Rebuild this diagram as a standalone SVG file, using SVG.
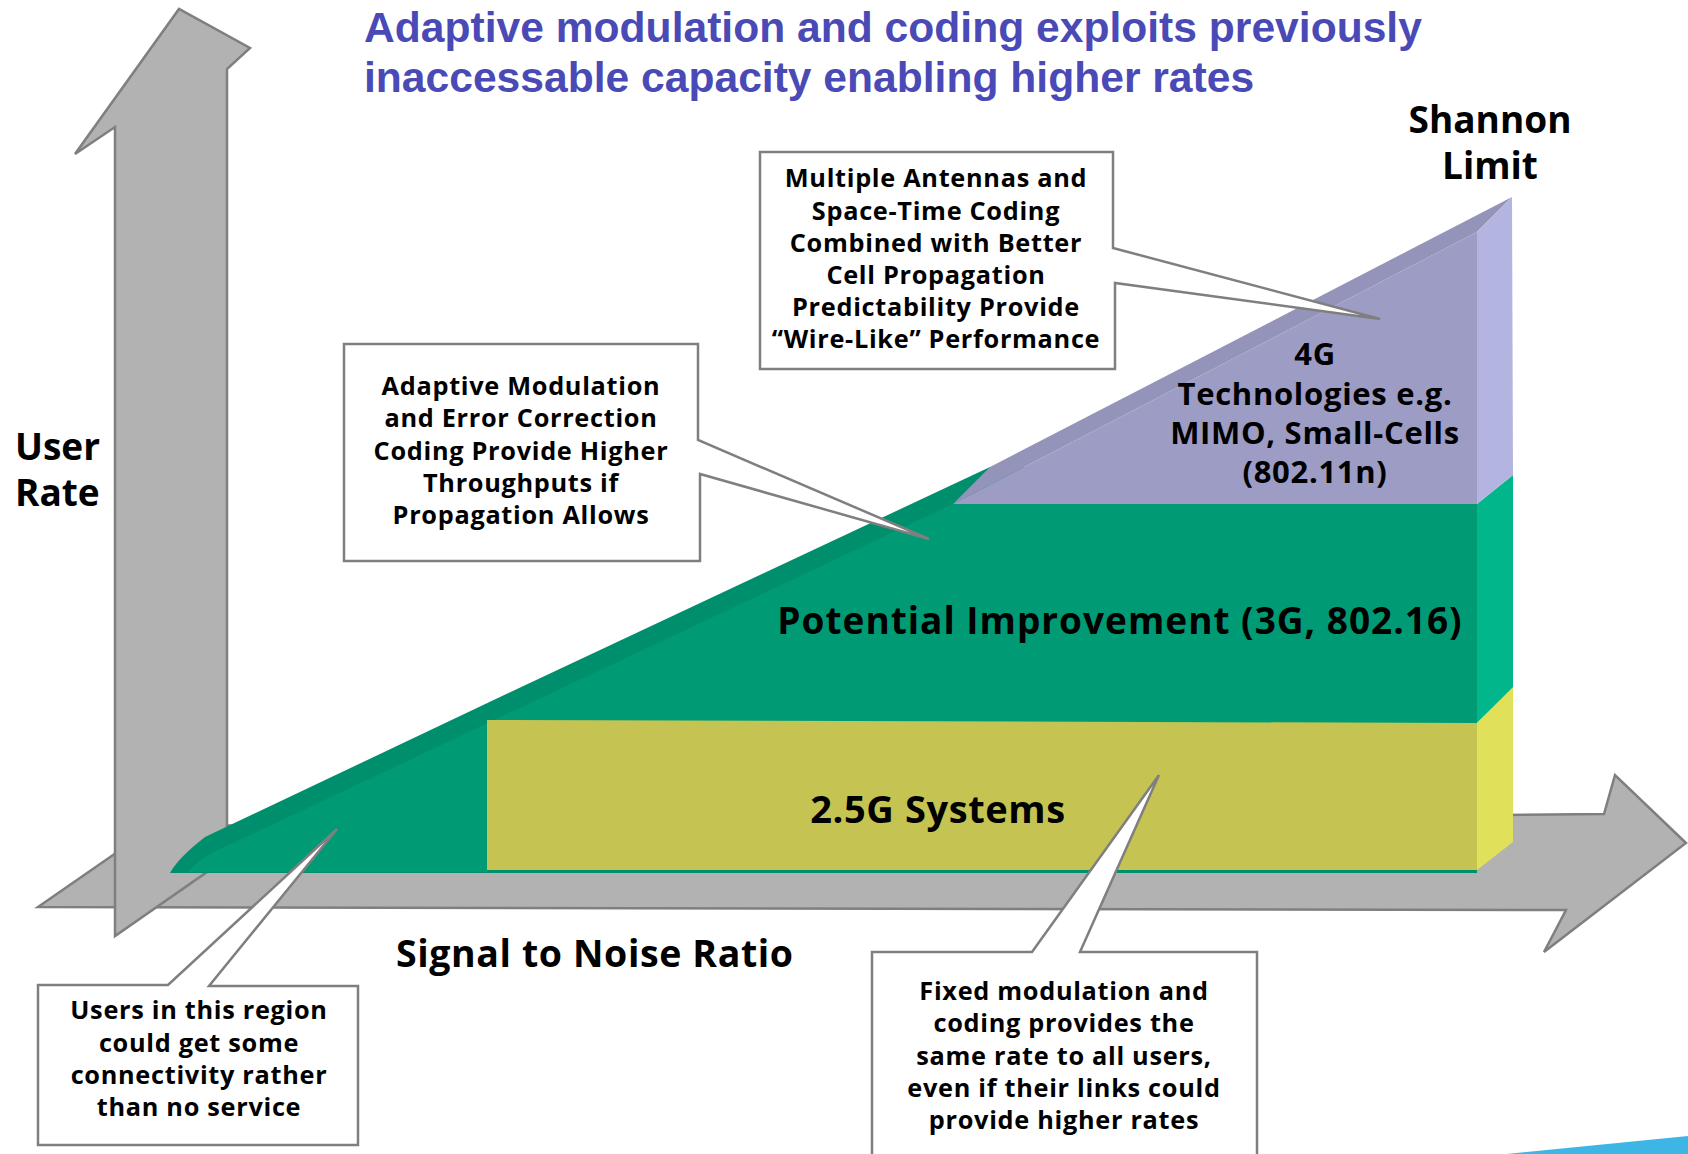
<svg xmlns="http://www.w3.org/2000/svg" width="1688" height="1154" viewBox="0 0 1688 1154">
<style>
.arrow{fill:#B2B2B2;stroke:#7F7F7F;stroke-width:2.5;stroke-linejoin:miter}
.callout{fill:#FFFFFF;stroke:#7F7F7F;stroke-width:2.5;stroke-linejoin:miter}
.title{font-family:"Liberation Sans",Arial,sans-serif;font-weight:700;font-size:42.6px;fill:#4A4AB6}
.big{font-family:"Open Sans","Noto Sans",sans-serif;font-weight:700;fill:#000}
.note{font-family:"Open Sans","Noto Sans",sans-serif;font-weight:700;font-size:25.3px;fill:#000;text-anchor:middle;letter-spacing:0.7px}
</style>
<rect width="1688" height="1154" fill="#FFFFFF"/>
<g id="title">
<text class="title" x="364" y="42">Adaptive modulation and coding exploits previously</text>
<text class="title" x="364" y="92">inaccessable capacity enabling higher rates</text>
</g>
<g id="axis-x">
<path class="arrow" d="M38,907 L155,826 L1604,814 L1615,775 L1686,843 L1544,952 L1566,910 Z"/>
</g>
<g id="axis-y">
<path class="arrow" d="M115,936 L115,127 L75,154 L179,9 L250,48 L227,69 L227,858 Z"/>
</g>
<g id="wedge">
<path id="green-band" fill="#008F6C" d="M170,873 Q178,858 205,837 L517,689 L990,467 L1477,467 L1477,873 Z"/>
<path id="green-face" fill="#009B75" d="M953,504 L1477,504 L1477,723 L487,723 L487,872 L188,872 Q198,860 214,852 Z"/>
<path id="green-side" fill="#00B68A" d="M1477,504 L1513,475 L1513,688 L1477,723 Z"/>
<path id="yellow-face" fill="#C5C452" d="M487,720 L1477,723 L1477,870 L487,870 Z"/>
<path id="yellow-side" fill="#E1E05A" d="M1477,723 L1513,687 L1513,842 L1477,870 Z"/>
<path id="purple-band" fill="#9493BA" d="M953,504 L990,467 L1512,197 L1477,232 Z"/>
<path id="purple-face" fill="#9D9CC5" d="M953,504 L1477,232 L1477,504 Z"/>
<path id="purple-side" fill="#B4B4E0" d="M1477,232 L1512,197 L1513,475 L1477,504 Z"/>
</g>
<g id="labels">
<text class="big" font-size="37" x="1120" y="634" text-anchor="middle" letter-spacing="1">Potential Improvement (3G, 802.16)</text>
<text class="big" font-size="38" x="938" y="823" text-anchor="middle" letter-spacing="0.6">2.5G Systems</text>
<text id="label-4g" class="big" font-size="31" text-anchor="middle" letter-spacing="0.7"><tspan x="1315" y="365">4G</tspan><tspan x="1315" y="404.5">Technologies e.g.</tspan><tspan x="1315" y="443.5">MIMO, Small-Cells</tspan><tspan x="1315" y="483">(802.11n)</tspan></text>
<text id="label-shannon" class="big" font-size="37" text-anchor="middle"><tspan x="1490" y="133">Shannon</tspan><tspan x="1490" y="179">Limit</tspan></text>
<text id="label-user-rate" class="big" font-size="37"><tspan x="15" y="460">User</tspan><tspan x="15" y="506">Rate</tspan></text>
<text id="label-snr" class="big" font-size="37.5" x="396" y="967" letter-spacing="0.6">Signal to Noise Ratio</text>
</g>
<g id="callout-mimo">
<path class="callout" d="M760,152 H1113 V248 L1380,319 L1115,283 V369 H760 Z"/>
<text class="note"><tspan x="936" y="187">Multiple Antennas and</tspan><tspan x="936" y="220">Space-Time Coding</tspan><tspan x="936" y="252">Combined with Better</tspan><tspan x="936" y="284">Cell Propagation</tspan><tspan x="936" y="316">Predictability Provide</tspan><tspan x="936" y="348">“Wire-Like” Performance</tspan></text>
</g>
<g id="callout-adaptive">
<path class="callout" d="M344,344 H698 V440 L929,539 L700,474 V561 H344 Z"/>
<text class="note"><tspan x="521" y="395">Adaptive Modulation</tspan><tspan x="521" y="427">and Error Correction</tspan><tspan x="521" y="460">Coding Provide Higher</tspan><tspan x="521" y="492">Throughputs if</tspan><tspan x="521" y="524">Propagation Allows</tspan></text>
</g>
<g id="callout-users">
<path class="callout" d="M38,985 H168 L337,829 L209,986 H358 V1145 H38 Z"/>
<text class="note"><tspan x="199" y="1019">Users in this region</tspan><tspan x="199" y="1052">could get some</tspan><tspan x="199" y="1084">connectivity rather</tspan><tspan x="199" y="1116">than no service</tspan></text>
</g>
<g id="callout-fixed">
<path class="callout" d="M872,952 H1032 L1159,775 L1080,952 H1257 V1162 H872 Z"/>
<text class="note"><tspan x="1064" y="1000">Fixed modulation and</tspan><tspan x="1064" y="1032">coding provides the</tspan><tspan x="1064" y="1065">same rate to all users,</tspan><tspan x="1064" y="1097">even if their links could</tspan><tspan x="1064" y="1129">provide higher rates</tspan></text>
</g>
<path id="corner-swoosh" fill="#3DB6E6" d="M1507,1154 L1688,1136 L1688,1154 Z"/>
</svg>
